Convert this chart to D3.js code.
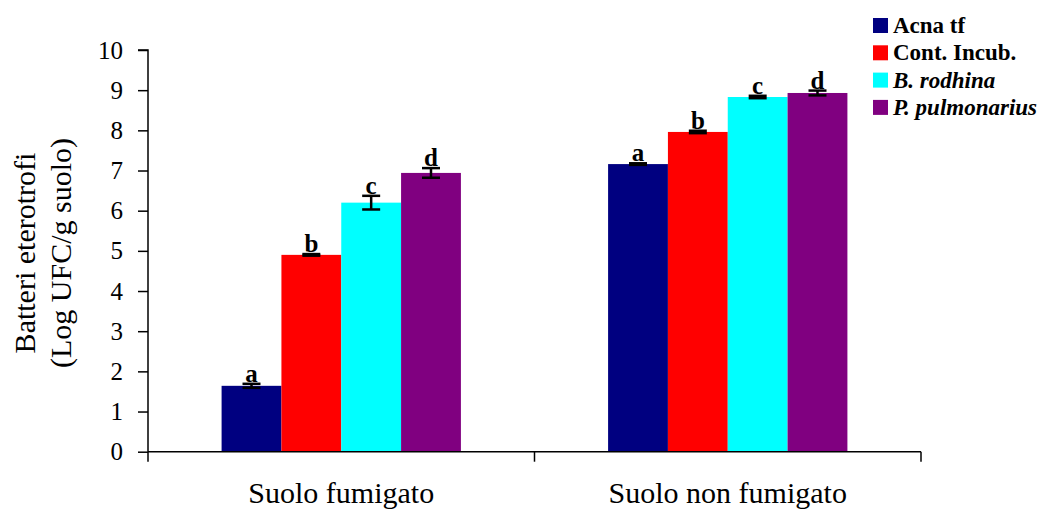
<!DOCTYPE html>
<html>
<head>
<meta charset="utf-8">
<script src="https://cdn.jsdelivr.net/npm/d3@7"></script>
<style>
  html, body { margin: 0; padding: 0; background: #fff; }
  svg { display: block; }
  text { font-family: "Liberation Serif", "Times New Roman", serif; fill: #000; }
</style>
</head>
<body>
<svg id="chart" width="1045" height="512"></svg>
<script>
// Soil groups and treatments
const groups = ["Suolo fumigato", "Suolo non fumigato"];
const treatments = ["Acna tf", "Cont. Incub.", "B. rodhina", "P. pulmonarius"];
const italicTreatments = [false, false, true, true];
const colors = ["#000080", "#ff0000", "#00ffff", "#800080"];

// Heterotrophic bacteria, Log UFC/g soil (rows = soil group, cols = treatment)
const meansFumigato = [1.64, 4.90, 6.20, 6.94];
const meansNonFumigato = [7.16, 7.96, 8.83, 8.93];
const errFumigato = [0.05, 0.02, 0.17, 0.12];
const errNonFumigato = [0.02, 0.03, 0.03, 0.06];
const letters = ["a", "b", "c", "d"];
const yTicks = [0, 1, 2, 3, 4, 5, 6, 7, 8, 9, 10];

const means = [meansFumigato, meansNonFumigato];
const errs = [errFumigato, errNonFumigato];

const svg = d3.select("#chart");
const margin = { left: 148, right: 124, top: 50, bottom: 60 };
const W = 1045, H = 512;

const x0 = d3.scaleBand().domain(groups)
  .range([margin.left, W - margin.right]).paddingInner(0).paddingOuter(0);
const x1 = d3.scaleBand().domain(treatments)
  .range([0, x0.bandwidth()]).paddingInner(0).paddingOuter(1.23);
const y = d3.scaleLinear().domain([0, 10]).range([H - margin.bottom - 0.3, margin.top]);

// Bars, error bars and significance letters
const g = svg.append("g");
groups.forEach((grp, gi) => {
  treatments.forEach((t, ti) => {
    const v = means[gi][ti];
    const bx = x0(grp) + x1(t);
    g.append("rect")
      .attr("x", bx)
      .attr("y", y(v))
      .attr("width", x1.bandwidth())
      .attr("height", y(0) - y(v))
      .attr("fill", colors[ti]);

    const cx = bx + x1.bandwidth() / 2;
    const e = errs[gi][ti];
    const capW = 9;
    const eg = g.append("g").attr("stroke", "#000").attr("stroke-width", 2.5);
    eg.append("line").attr("x1", cx).attr("x2", cx).attr("y1", y(v - e)).attr("y2", y(v + e));
    eg.append("line").attr("x1", cx - capW).attr("x2", cx + capW).attr("y1", y(v - e)).attr("y2", y(v - e));
    eg.append("line").attr("x1", cx - capW).attr("x2", cx + capW).attr("y1", y(v + e)).attr("y2", y(v + e));

    g.append("text")
      .attr("x", cx)
      .attr("y", y(v + e) - 2)
      .attr("text-anchor", "middle")
      .attr("font-size", 25)
      .attr("font-weight", "bold")
      .text(letters[ti]);
  });
});

// Y axis
const yAxis = d3.axisLeft(y).tickValues(yTicks).tickSize(10).tickPadding(15).tickFormat(d3.format("d"));
const ya = svg.append("g").attr("transform", `translate(${margin.left},0)`).call(yAxis);
ya.select(".domain").attr("stroke", "#000").attr("stroke-width", 1.5).attr("d", `M-10,${y(10)}H0V${y(0)}`);
ya.selectAll(".tick line").attr("stroke", "#000").attr("stroke-width", 1.5);
ya.selectAll(".tick text").attr("font-size", 25).attr("font-family", "Liberation Serif, serif").attr("fill", "#000");

// X axis
const xa = svg.append("g").attr("transform", `translate(0,${y(0)})`);
xa.append("line").attr("x1", margin.left).attr("x2", W - margin.right)
  .attr("y1", 0).attr("y2", 0).attr("stroke", "#000").attr("stroke-width", 1.5);
const xTickPos = [x0(groups[0]), x0(groups[1]), x0(groups[1]) + x0.bandwidth()];
xTickPos.forEach(px => {
  xa.append("line").attr("x1", px).attr("x2", px).attr("y1", 0).attr("y2", 10)
    .attr("stroke", "#000").attr("stroke-width", 1.5);
});
groups.forEach(grp => {
  xa.append("text")
    .attr("x", x0(grp) + x0.bandwidth() / 2)
    .attr("y", 51)
    .attr("text-anchor", "middle")
    .attr("font-size", 30)
    .text(grp);
});

// Y axis title
const yt = svg.append("text")
  .attr("transform", `translate(0,253) rotate(-90)`)
  .attr("text-anchor", "middle")
  .attr("font-size", 30);
yt.append("tspan").attr("x", 0).attr("y", 35).text("Batteri eterotrofi");
yt.append("tspan").attr("x", 0).attr("y", 71).text("(Log UFC/g suolo)");

// Legend
const lg = svg.append("g").attr("transform", "translate(873,18)");
treatments.forEach((t, i) => {
  const row = lg.append("g").attr("transform", `translate(0,${i * 27.3})`);
  row.append("rect").attr("x", 0).attr("y", 0).attr("width", 15).attr("height", 15).attr("fill", colors[i]);
  row.append("text")
    .attr("x", 20).attr("y", 15)
    .attr("font-size", 23)
    .attr("font-weight", "bold")
    .attr("font-style", italicTreatments[i] ? "italic" : "normal")
    .text(t);
});
</script>
</body>
</html>
